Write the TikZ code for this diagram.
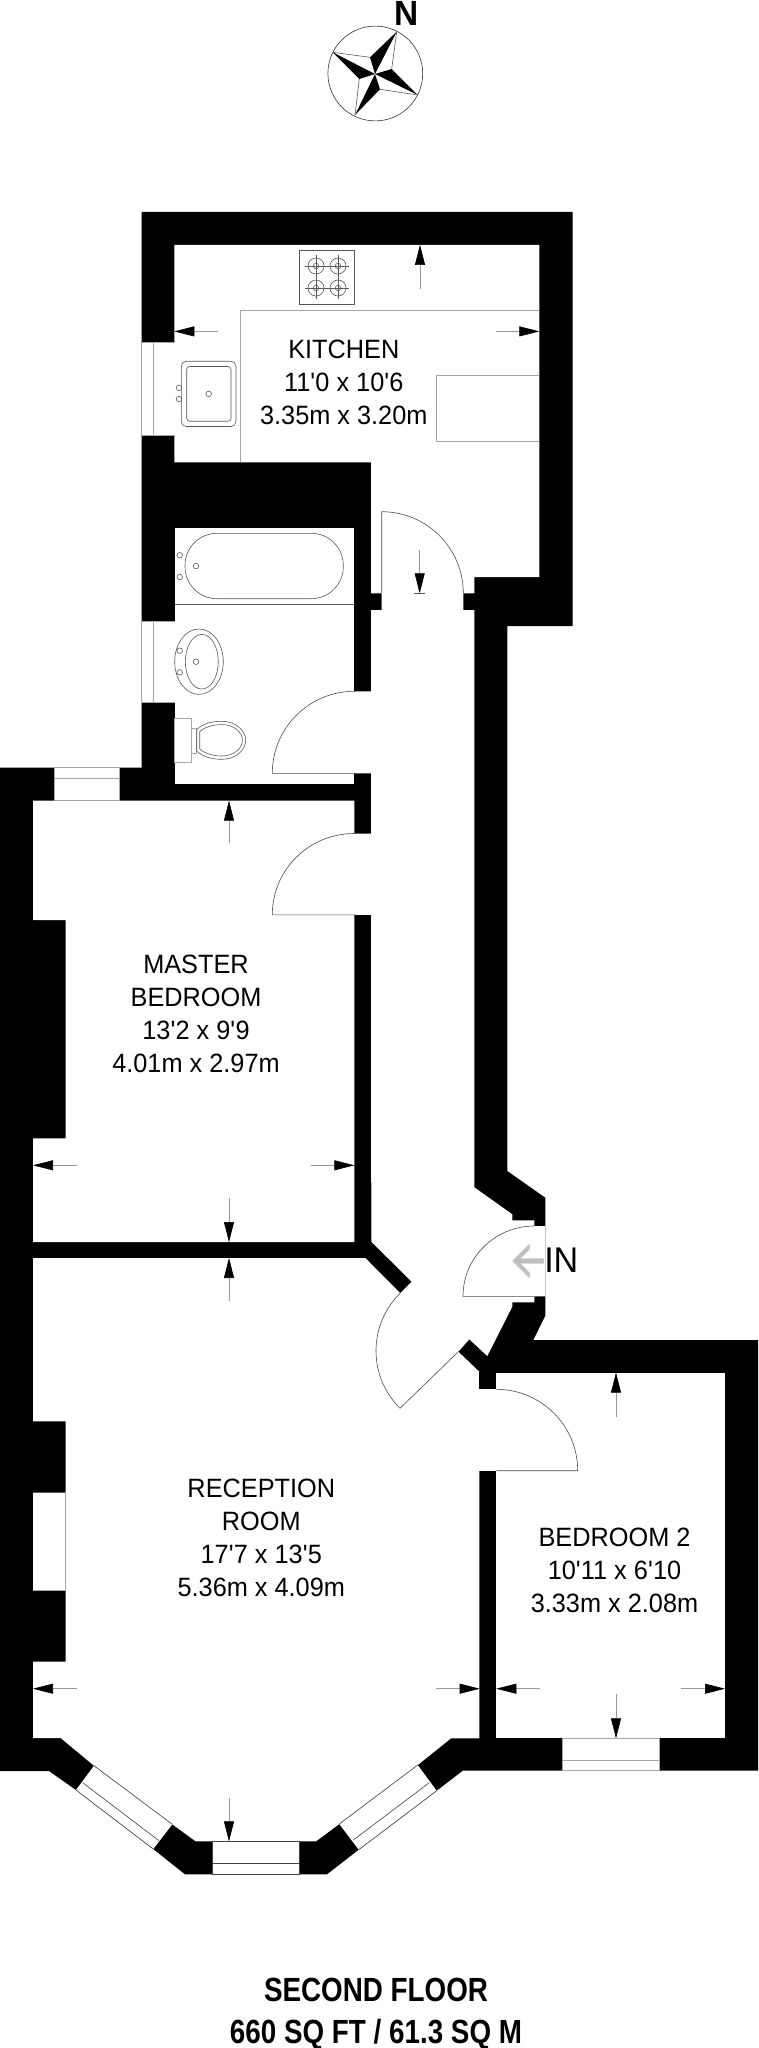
\documentclass[tikz,border=0pt]{standalone}
\usepackage{fontspec}
\setmainfont{Liberation Sans}[FakeStretch=0.955]
\newfontfamily\titlefont{Liberation Sans}[FakeStretch=0.83]
\usetikzlibrary{arrows.meta}
\tikzset{
	wall/.style={fill=black, draw=none},
	room/.style={fill=white, draw=none},
	seam/.style={color=white, line width=1.2pt},
	glass/.style={color=gray!70, line width=0.8pt},
	baypane/.style={color=black!75, line width=0.6pt},
	fitting/.style={color=black!65, line width=0.6pt},
	worktop/.style={color=gray!70, line width=0.8pt},
	doorline/.style={color=black!70, line width=0.6pt},
	dimline/.style={color=gray!80, line width=0.6pt, -{Triangle[length=20pt, width=10pt, black]}},
	roomlabel/.style={align=center, inner sep=0pt, font=\fontsize{26.5}{33}\selectfont},
	titlelabel/.style={align=center, inner sep=0pt, font=\titlefont\bfseries\fontsize{33.5}{42}\selectfont}
}
\begin{document}
\begin{tikzpicture}[x=1pt, y=-1pt]
	\useasboundingbox (0,0) rectangle (758,2048);

	\fill[wall] (141.7,211.8) -- (572.7,211.8) -- (572.7,626) -- (507.3,626) -- (507.3,1171) -- (545.3,1197.7) -- (545.3,1315.7) -- (533.3,1340) -- (758,1340) -- (758,1770.7) -- (462.7,1770.7) -- (436.7,1790.7) -- (358.7,1849.7) -- (327,1874.3) -- (185,1874.3) -- (153.3,1849) -- (76,1790) -- (49,1771) -- (0,1771) -- (0,767.5) -- (141.7,767.5) -- cycle;

	\fill[room] (174.3,244.9) -- (539.3,244.9) -- (539.3,577) -- (474.3,577) -- (474.3,593.3) -- (463.3,593.3) -- (463.3,610) -- (474.3,610) -- (474.3,1187.3) -- (512.3,1214.3) -- (512.3,1220.3) -- (534.3,1220.3) -- (534.3,1226) -- (545.3,1226) -- (545.3,1296.3) -- (534.3,1296.3) -- (534.3,1302.3) -- (512.3,1302.3) -- (512.3,1306.7) -- (487.3,1356) -- (469.3,1339.3) -- (458.3,1351.7) -- (400,1293.3) -- (411.7,1281.7) -- (371.3,1241.7) -- (371,914.9) -- (354.3,914.9) -- (354.3,833.5) -- (371,833.5) -- (371,773.3) -- (354.3,773.3) -- (354.3,691.3) -- (371,691.3) -- (371,610) -- (381.7,610) -- (381.7,593.3) -- (371,593.3) -- (371,462.4) -- (174.3,462.4) -- cycle;
	\fill[room] (174.6,528.3) rectangle (354.3,784);
	\fill[room] (33,800.7) -- (354.3,800.7) -- (354.3,1242) -- (33,1242) -- (33,1138.3) -- (65.7,1138.3) -- (65.7,920) -- (33,920) -- cycle;
	\fill[room] (33,1258) -- (365.3,1258) -- (458.3,1351.7) -- (479.3,1371.7) -- (479.3,1738.3) -- (451,1738.3) -- (417.7,1765) -- (339.3,1824) -- (316,1841.3) -- (195.7,1841.3) -- (172.3,1824.3) -- (94,1765.7) -- (60.7,1738) -- (33,1738) -- (33,1661.7) -- (65.7,1661.7) -- (65.7,1590.7) -- (33,1590.7) -- (33,1492.7) -- (65.7,1492.7) -- (65.7,1421.3) -- (33,1421.3) -- cycle;
	\fill[room] (496.3,1372.7) rectangle (725,1738.3);
	\fill[room] (478,1389.3) rectangle (497,1470.7);
	\fill[wall] (479.3,1371.7) rectangle (496.3,1389.3);
	\draw[seam] (354.3,692) -- (354.3,772.6);
	\draw[seam] (354.3,834.2) -- (354.3,914.2);
	\draw[seam] (400.5,1293.8) -- (457.8,1351.2);

	\draw[glass] (65.7,1492.7) -- (65.7,1590.7);
	\foreach \ya/\yb in {342.4/435.1,621/702.3}{
		\fill[room] (141.7,\ya) rectangle (174.6,\yb);
		\draw[glass] (174.6,\ya) -- (141.7,\ya) -- (141.7,\yb) -- (174.6,\yb);
		\draw[glass] (153,\ya) -- (153,\yb);
	}
	\fill[room] (54.3,767.5) rectangle (119.7,800.7);
	\draw[glass] (54.3,767.5) rectangle (119.7,800.7);
	\draw[glass] (54.3,778.8) -- (119.7,778.8);
	\fill[room] (562,1738.3) rectangle (659.7,1770.7);
	\draw[glass] (562,1738.3) rectangle (659.7,1770.7);
	\draw[glass] (562,1760) -- (659.7,1760);

	\fill[room] (94,1765.7) -- (76,1790) -- (153.3,1849) -- (172.3,1824.3) -- cycle;
	\draw[baypane] (94,1765.7) -- (172.3,1824.3) (76,1790) -- (153.3,1849) (82.7,1782.7) -- (159,1840.7);
	\fill[room] (212.7,1841.3) rectangle (299.7,1874.3);
	\draw[baypane] (212.7,1841.3) rectangle (299.7,1874.3);
	\draw[baypane] (212.7,1863.7) -- (299.7,1863.7);
	\fill[room] (339.3,1824) -- (358.7,1849.7) -- (436.7,1790.7) -- (417.7,1765) -- cycle;
	\draw[baypane] (339.3,1824) -- (417.7,1765) (358.7,1849.7) -- (436.7,1790.7) (353.3,1840) -- (429.3,1782.7);

	\draw[worktop] (240,462.4) -- (240,310.2) -- (539.3,310.2);
	\draw[worktop] (539.3,375.5) -- (436.3,375.5) -- (436.3,441.2) -- (539.3,441.2);
	\draw[fitting] (299.3,250.2) rectangle (354.7,304.5);
	\foreach \x in {316,338}{
		\foreach \y in {266,288}{
			\draw[fitting] (\x,\y) circle (8pt);
			\draw[fitting] (\x,\y) circle (2.8pt);
			\draw[fitting, line width=0.4pt] (\x-11,\y) -- (\x+11,\y);
			\draw[fitting, line width=0.4pt] (\x,\y-11) -- (\x,\y+11);
		}
	}
	\draw[fitting, rounded corners=5pt] (181.3,361.2) rectangle (236,426.5);
	\draw[fitting, rounded corners=3pt] (186.7,366.5) rectangle (231,421.2);
	\foreach \x/\y in {179/387.8,179/399,208.7/393.9,179.7/555.3,179.7/577,196/566,179.7/650.7,179.7/672.3,196/661.7}{
		\draw[fitting] (\x,\y) circle (2.8pt);
	}
	\draw[fitting, rounded corners=32pt] (185,533.3) rectangle (343.3,598.7);
	\draw[fitting] (174.6,604.3) -- (354.3,604.3);
	\draw[fitting] (199,661.7) ellipse (24.3pt and 32.7pt);
	\draw[fitting] (201.8,661.7) ellipse (16.5pt and 27.3pt);
	\draw[glass] (174.6,718.3) rectangle (191.3,762.3);
	\draw[glass] (191.3,728.3) rectangle (196.7,753.3);
	\draw[fitting] (196.7,729.5) .. controls (205,722) and (215,721.3) .. (222,721.3) .. controls (235,721.3) and (245.7,730) .. (245.7,740.3) .. controls (245.7,750.6) and (235,759.3) .. (222,759.3) .. controls (215,759.3) and (205,758.5) .. (196.7,751) -- cycle;
	\draw[fitting] (199.7,731.5) .. controls (207,725.5) and (216,724.6) .. (222,724.6) .. controls (233,724.6) and (242.4,731.5) .. (242.4,740.3) .. controls (242.4,749.1) and (233,756) .. (222,756) .. controls (216,756) and (207,755) .. (199.7,749) -- cycle;

	\draw[doorline] (381.7,593.3) -- (381.7,511.7) .. controls (426.8,511.7) and (463.3,548.2) .. (463.3,593.3);
	\draw[doorline] (354.3,773.3) -- (272.3,773.3) .. controls (272.3,728) and (309,691.3) .. (354.3,691.3);
	\draw[doorline] (354.3,914.9) -- (272.3,914.9) .. controls (272.3,869.6) and (309,833.5) .. (354.3,833.5);
	\draw[doorline] (534.3,1296.3) -- (463,1296.3) .. controls (463,1257.3) and (495.3,1226) .. (534.3,1226);
	\draw[doorline] (458.3,1351.7) -- (400,1408.3) .. controls (368,1376.3) and (368,1325.3) .. (400,1293.3);
	\draw[doorline] (496.3,1389.3) .. controls (541.3,1389.3) and (577.7,1425.7) .. (577.7,1470.7) -- (496.3,1470.7);

	\foreach \xa/\ya/\xb/\yb in {420/288.6/420/244.9,218.3/331.4/174.3/331.4,496/331.4/539.3/331.4,419.7/550/419.7/593.3,229/843.3/229/800.7,76.7/1165.3/33/1165.3,310.7/1165.3/354.3/1165.3,229/1198.3/229/1242,229/1301/229/1258,76.7/1688.7/33/1688.7,436.3/1688.7/479.7/1688.7,229/1798/229/1841.3,616/1416.7/616/1372.7,539.7/1688.7/496.3/1688.7,681.3/1688.7/725/1688.7,616/1694.3/616/1738.3}{
		\draw[dimline] (\xa,\ya) -- (\xb,\yb);
	}
	\draw[fitting, line width=0.4pt] (414,593.3) -- (425,593.3);

	\draw[fill=white, color=gray!50, line width=0.35pt] (512.7,1261) -- (529.3,1244.3) -- (529.5,1249) -- (520,1258.7) -- (543.7,1258.7) -- (543.7,1263.3) -- (520,1263.3) -- (529.5,1273) -- (529.3,1277.7) -- cycle;

	\draw[line width=0.6pt, color=black!80] (375.3,73.5) circle (47.4pt);
	\draw[fitting] (396.7,31.7) -- (391.7,69) (417.7,95) -- (380,89.3) (355,115) -- (359.3,79) (332.7,52.3) -- (370,57.3);
	\foreach \tx/\ty/\nx/\ny in {396.7/31.7/370/57.3,417.7/95/391.7/69,355/115/380/89.3,332.7/52.3/359.3/79}{
		\fill[black] (375,74) -- (\tx,\ty) -- (\nx,\ny) -- cycle;
	}

	\node[roomlabel] (kitchenlabel) at (343.8,382) {KITCHEN\\11\textquotesingle 0 x 10\textquotesingle 6\\3.35m x 3.20m};
	\node[roomlabel] (masterlabel) at (196,1014) {MASTER\\BEDROOM\\13\textquotesingle 2 x 9\textquotesingle 9\\4.01m x 2.97m};
	\node[roomlabel] (receptionlabel) at (261.3,1538) {RECEPTION\\ROOM\\17\textquotesingle 7 x 13\textquotesingle 5\\5.36m x 4.09m};
	\node[roomlabel] (bedroomlabel) at (614.5,1570) {BEDROOM 2\\10\textquotesingle 11 x 6\textquotesingle 10\\3.33m x 2.08m};
	\node[inner sep=0pt, font=\fontsize{35.7}{36}\selectfont] (inlabel) at (561.3,1260.5) {IN};
	\node[inner sep=0pt, font=\bfseries\fontsize{35}{36}\selectfont] (northlabel) at (407,13.5) {N};
	\node[titlelabel] (titlelabel) at (376,2014.5) {SECOND FLOOR\\660 SQ FT / 61.3 SQ M};
\end{tikzpicture}
\end{document}
